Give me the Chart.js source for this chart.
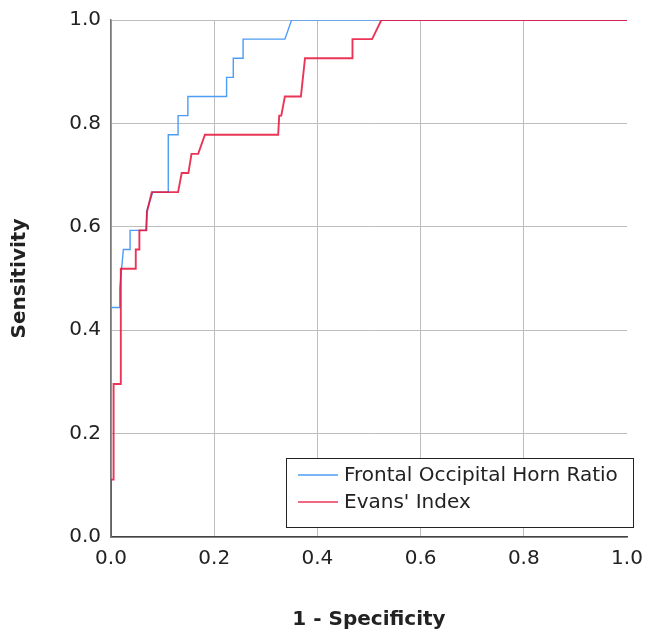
<!DOCTYPE html>
<html>
<head>
<meta charset="utf-8">
<script src="https://cdn.jsdelivr.net/npm/chart.js@4"></script>
<style>
html,body{margin:0;padding:0;background:#fff;}
#wrap{width:647px;height:630px;}
</style>
</head>
<body>
<div id="wrap"><canvas id="c" width="647" height="630"></canvas></div>
<script>
// ---- data ----
const seriesNames = ["Frontal Occipital Horn Ratio", "Evans' Index"];
const fohrX = [0, 0, 0.017, 0.017, 0.024, 0.037, 0.037, 0.069, 0.069, 0.081, 0.111, 0.111, 0.130, 0.130, 0.149, 0.149, 0.224, 0.224, 0.237, 0.237, 0.256, 0.256, 0.337, 0.350, 1.0];
const fohrY = [0, 0.444, 0.444, 0.481, 0.556, 0.556, 0.593, 0.593, 0.630, 0.667, 0.667, 0.778, 0.778, 0.815, 0.815, 0.852, 0.852, 0.889, 0.889, 0.926, 0.926, 0.963, 0.963, 1.0, 1.0];
const evansX = [0, 0, 0.005, 0.005, 0.019, 0.019, 0.048, 0.048, 0.055, 0.055, 0.068, 0.070, 0.079, 0.130, 0.137, 0.150, 0.156, 0.169, 0.182, 0.324, 0.326, 0.330, 0.337, 0.368, 0.372, 0.376, 0.468, 0.468, 0.506, 0.524, 1.0];
const evansY = [0, 0.111, 0.111, 0.296, 0.296, 0.519, 0.519, 0.556, 0.556, 0.593, 0.593, 0.630, 0.667, 0.667, 0.704, 0.704, 0.741, 0.741, 0.778, 0.778, 0.815, 0.815, 0.852, 0.852, 0.889, 0.926, 0.926, 0.963, 0.963, 1.0, 1.0];
const tickValues = [0, 0.2, 0.4, 0.6, 0.8, 1.0];
const xTitle = "1 - Specificity";
const yTitle = "Sensitivity";

const colors = ["#4d9cf5", "rgba(230,18,58,0.85)"];
const toPts = (xs, ys) => xs.map((x, i) => ({x: x, y: ys[i]}));

const FONT = "'DejaVu Sans', sans-serif";

const legendPlugin = {
  id: 'boxLegend',
  afterDatasetsDraw(chart) {
    const ctx = chart.ctx;
    const x0 = 286, y0 = 458, w = 347, h = 69;
    ctx.save();
    ctx.fillStyle = '#fff';
    ctx.fillRect(x0, y0, w, h);
    ctx.strokeStyle = '#222';
    ctx.lineWidth = 1;
    ctx.strokeRect(x0 + 0.5, y0 + 0.5, w, h);
    ctx.font = "20px " + FONT;
    ctx.textBaseline = 'middle';
    ctx.textAlign = 'left';
    chart.data.datasets.forEach((ds, i) => {
      const yy = y0 + 17 + i * 27;
      ctx.strokeStyle = ds.borderColor;
      ctx.lineWidth = 1.3;
      ctx.beginPath();
      ctx.moveTo(298, yy);
      ctx.lineTo(338, yy);
      ctx.stroke();
      ctx.fillStyle = '#222';
      ctx.fillText(ds.label, 344, yy + 1);
    });
    ctx.restore();
  }
};

new Chart(document.getElementById('c'), {
  type: 'line',
  data: {
    datasets: [
      {label: seriesNames[0], data: toPts(fohrX, fohrY), borderColor: colors[0], borderWidth: 1.4, pointRadius: 0, tension: 0, fill: false, order: 1},
      {label: seriesNames[1], data: toPts(evansX, evansY), borderColor: colors[1], borderWidth: 1.9, pointRadius: 0, tension: 0, fill: false, order: 0}
    ]
  },
  options: {
    responsive: false,
    animation: false,
    layout: {padding: {top: 20, right: 20, left: 0, bottom: 0}},
    plugins: {legend: {display: false}, tooltip: {enabled: false}},
    scales: {
      x: {
        type: 'linear', min: 0, max: 1,
        afterFit(s) { s.height = 93; s.paddingLeft = 0; s.paddingRight = 0; },
        afterBuildTicks(s) { s.ticks = tickValues.map(v => ({value: v})); },
        ticks: {color: '#222', font: {family: FONT, size: 20}, padding: 10, callback: v => v.toFixed(1)},
        grid: {color: ctx => (ctx.tick && ctx.tick.value === 1 ? 'rgba(0,0,0,0)' : '#bdbdbd'), lineWidth: 1, drawTicks: false},
        border: {color: '#444', width: 1.5},
        title: {display: true, text: xTitle, color: '#222', font: {family: FONT, size: 20, weight: 'bold', lineHeight: 1.05}, padding: {top: 0, bottom: 0}}
      },
      y: {
        type: 'linear', min: 0, max: 1,
        afterFit(s) { s.width = 111; s.paddingTop = 0; s.paddingBottom = 0; },
        afterBuildTicks(s) { s.ticks = tickValues.map(v => ({value: v})); },
        ticks: {color: '#222', font: {family: FONT, size: 20}, padding: 10, callback: v => v.toFixed(1)},
        grid: {color: '#bdbdbd', lineWidth: 1, drawTicks: false},
        border: {color: '#777', width: 1.5},
        title: {display: true, text: yTitle, color: '#222', font: {family: FONT, size: 20, weight: 'bold', lineHeight: 1.2}, padding: {top: 8, bottom: 0}}
      }
    }
  },
  plugins: [legendPlugin]
});
</script>
</body>
</html>
